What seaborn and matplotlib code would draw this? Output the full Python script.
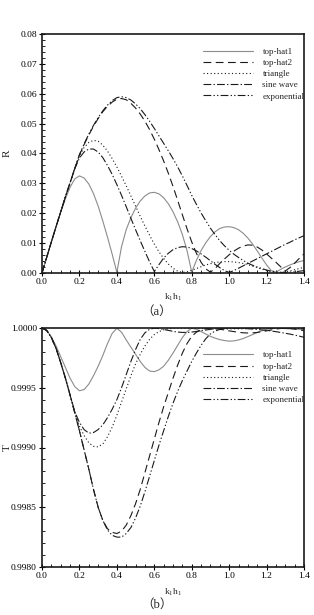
import matplotlib
matplotlib.use("Agg")
import matplotlib.pyplot as plt
from matplotlib.ticker import AutoMinorLocator, MultipleLocator, FormatStrFormatter
import seaborn as sns

sns.set_theme(style="ticks")
plt.rcParams['font.family'] = ['Liberation Serif', 'Noto Sans CJK SC', 'DejaVu Sans']
plt.rcParams['mathtext.fontset'] = 'custom'
plt.rcParams['mathtext.rm'] = 'Liberation Serif'
plt.rcParams['mathtext.it'] = 'Liberation Serif'

# k1h1 grid, step 0.025
k1h1 = [0.0, 0.025, 0.05, 0.075, 0.1, 0.125, 0.15, 0.175, 0.2, 0.225, 0.25, 0.275, 0.3, 0.325,
        0.35, 0.375, 0.4, 0.425, 0.45, 0.475, 0.5, 0.525, 0.55, 0.575, 0.6, 0.625, 0.65, 0.675,
        0.7, 0.725, 0.75, 0.775, 0.8, 0.825, 0.85, 0.875, 0.9, 0.925, 0.95, 0.975, 1.0, 1.025,
        1.05, 1.075, 1.1, 1.125, 1.15, 1.175, 1.2, 1.225, 1.25, 1.275, 1.3, 1.325, 1.35, 1.375, 1.4]

labels = ["top-hat1", "top-hat2", "triangle", "sine wave", "exponential"]

# (a) reflection coefficient R
r_tophat1 = [0, 0.0052, 0.0104, 0.0155, 0.0203, 0.0248, 0.0287, 0.0315, 0.0325, 0.0318, 0.0298, 0.0266,
             0.0224, 0.0174, 0.0120, 0.0063, 0.0002, 0.0088, 0.0145, 0.0185, 0.0217, 0.0241, 0.0258, 0.0268,
             0.0270, 0.0265, 0.0252, 0.0232, 0.0205, 0.0171, 0.0129, 0.0075, 0.0003, 0.0042, 0.0075, 0.0101,
             0.0122, 0.0138, 0.0149, 0.0154, 0.0155, 0.0152, 0.0145, 0.0133, 0.0117, 0.0097, 0.0074, 0.0050,
             0.0027, 0.0008, 0.0003, 0.0012, 0.0020, 0.0027, 0.0033, 0.0038, 0.0042]
r_tophat2 = [0, 0.0052, 0.0104, 0.0155, 0.0205, 0.0255, 0.0302, 0.0350, 0.0395, 0.0430, 0.0462, 0.0491,
             0.0517, 0.0540, 0.0558, 0.0572, 0.0582, 0.0584, 0.0580, 0.0568, 0.0552, 0.0532, 0.0508, 0.0480,
             0.0448, 0.0413, 0.0375, 0.0334, 0.0290, 0.0243, 0.0195, 0.0148, 0.0104, 0.0066, 0.0036, 0.0014,
             0.0003, 0.0015, 0.0032, 0.0047, 0.0061, 0.0073, 0.0083, 0.0090, 0.0094, 0.0093, 0.0087, 0.0077,
             0.0064, 0.0050, 0.0036, 0.0021, 0.0007, 0.0018, 0.0033, 0.0049, 0.0064]
r_triangle = [0, 0.0052, 0.0104, 0.0155, 0.0205, 0.0255, 0.0302, 0.0350, 0.0392, 0.0420, 0.0437, 0.0444,
              0.0441, 0.0428, 0.0408, 0.0383, 0.0355, 0.0324, 0.0292, 0.0258, 0.0224, 0.0190, 0.0157, 0.0126,
              0.0097, 0.0071, 0.0049, 0.0030, 0.0016, 0.0006, 0.0002, 0.0004, 0.0009, 0.0015, 0.0021, 0.0027,
              0.0031, 0.0035, 0.0037, 0.0038, 0.0038, 0.0037, 0.0035, 0.0032, 0.0028, 0.0023, 0.0018, 0.0013,
              0.0008, 0.0004, 0.0002, 0.0002, 0.0004, 0.0007, 0.0011, 0.0015, 0.0019]
r_sine = [0, 0.0052, 0.0104, 0.0155, 0.0205, 0.0255, 0.0302, 0.0348, 0.0385, 0.0405, 0.0415, 0.0415,
          0.0405, 0.0386, 0.0360, 0.0330, 0.0296, 0.0260, 0.0222, 0.0183, 0.0145, 0.0108, 0.0072, 0.0037,
          0.0005, 0.0028, 0.0050, 0.0066, 0.0078, 0.0085, 0.0088, 0.0087, 0.0082, 0.0074, 0.0064, 0.0053,
          0.0041, 0.0029, 0.0018, 0.0008, 0.0002, 0.0008, 0.0016, 0.0024, 0.0032, 0.0040, 0.0048, 0.0056,
          0.0064, 0.0072, 0.0080, 0.0088, 0.0096, 0.0103, 0.0111, 0.0118, 0.0125]
r_exp = [0, 0.0052, 0.0104, 0.0155, 0.0205, 0.0255, 0.0302, 0.0350, 0.0396, 0.0432, 0.0465, 0.0494,
         0.0520, 0.0543, 0.0562, 0.0577, 0.0587, 0.0590, 0.0587, 0.0579, 0.0566, 0.0550, 0.0530, 0.0508,
         0.0484, 0.0459, 0.0434, 0.0409, 0.0383, 0.0355, 0.0325, 0.0293, 0.0260, 0.0230, 0.0201, 0.0175,
         0.0150, 0.0128, 0.0108, 0.0091, 0.0076, 0.0063, 0.0052, 0.0042, 0.0033, 0.0026, 0.0020, 0.0015,
         0.0010, 0.0006, 0.0004, 0.0002, 0.0002, 0.0003, 0.0004, 0.0006, 0.0008]

# (b) transmission coefficient, read as 1 - T in units of 1e-4
loss_tophat1 = [0, 0.2, 0.75, 1.5, 2.4, 3.3, 4.2, 4.9, 5.25, 5.15, 4.7, 4.0, 3.2, 2.3, 1.3, 0.45, 0.02,
                0.35, 1.0, 1.6, 2.2, 2.8, 3.3, 3.6, 3.65, 3.5, 3.2, 2.7, 2.1, 1.45, 0.8, 0.3, 0.02,
                0.1, 0.3, 0.5, 0.7, 0.85, 0.97, 1.05, 1.1, 1.08, 1.0, 0.88, 0.72, 0.55, 0.38, 0.23,
                0.11, 0.04, 0.02, 0.03, 0.05, 0.07, 0.09, 0.11, 0.13]
loss_tophat2 = [0, 0.2, 0.8, 1.7, 2.9, 4.2, 5.6, 7.1, 8.6, 10.2, 11.8, 13.5, 15.0, 16.1, 16.8, 17.1, 17.2,
                17.0, 16.5, 15.7, 14.7, 13.5, 12.1, 10.7, 9.3, 7.9, 6.6, 5.4, 4.2, 3.1, 2.1, 1.3, 0.7,
                0.35, 0.15, 0.05, 0.02, 0.05, 0.1, 0.17, 0.24, 0.3, 0.36, 0.4, 0.42, 0.41, 0.37, 0.31,
                0.24, 0.16, 0.09, 0.04, 0.02, 0.04, 0.09, 0.15, 0.22]
loss_triangle = [0, 0.2, 0.8, 1.7, 2.9, 4.2, 5.6, 7.0, 8.2, 9.0, 9.6, 9.9, 9.95, 9.7, 9.1, 8.3, 7.3,
                 6.2, 5.1, 4.0, 3.0, 2.2, 1.5, 0.95, 0.55, 0.3, 0.15, 0.07, 0.03, 0.01, 0.0, 0.01, 0.02,
                 0.03, 0.05, 0.06, 0.07, 0.08, 0.08, 0.08, 0.08, 0.07, 0.07, 0.06, 0.05, 0.04, 0.02, 0.01,
                 0.0, 0.0, 0.0, 0.0, 0.0, 0.01, 0.01, 0.02, 0.02]
loss_sine = [0, 0.2, 0.8, 1.7, 2.9, 4.2, 5.6, 7.0, 7.9, 8.5, 8.8, 8.75, 8.5, 8.1, 7.5, 6.8, 6.0,
             5.0, 3.9, 2.8, 1.8, 0.95, 0.4, 0.1, 0.02, 0.05, 0.12, 0.2, 0.28, 0.34, 0.37, 0.37, 0.34,
             0.29, 0.23, 0.17, 0.11, 0.06, 0.03, 0.01, 0.0, 0.01, 0.02, 0.04, 0.06, 0.09, 0.12, 0.16,
             0.2, 0.25, 0.31, 0.37, 0.44, 0.51, 0.59, 0.68, 0.78]
loss_exp = [0, 0.2, 0.8, 1.7, 2.9, 4.2, 5.6, 7.1, 8.6, 10.2, 11.8, 13.5, 15.0, 16.1, 16.9, 17.35, 17.5,
            17.5, 17.2, 16.7, 15.9, 14.9, 13.7, 12.4, 11.1, 9.8, 8.6, 7.4, 6.3, 5.3, 4.4, 3.6, 2.8,
            2.1, 1.45, 0.9, 0.5, 0.25, 0.12, 0.06, 0.03, 0.02, 0.02, 0.02, 0.02, 0.02, 0.02, 0.02,
            0.02, 0.02, 0.02, 0.02, 0.02, 0.02, 0.03, 0.03, 0.04]

t_series = [[1 - d * 1e-4 for d in loss] for loss in
            (loss_tophat1, loss_tophat2, loss_triangle, loss_sine, loss_exp)]
r_series = [r_tophat1, r_tophat2, r_triangle, r_sine, r_exp]

colors = ["#8c8c8c", "#1a1a1a", "#1a1a1a", "#1a1a1a", "#1a1a1a"]
styles = ["-", (0, (7, 4)), (0, (1, 2.2)), (0, (7, 2, 1.2, 2)), (0, (7, 2, 1.2, 2, 1.2, 2))]

fig = plt.figure(figsize=(3.14, 6.15), dpi=100)
ax1 = fig.add_axes([42/314, 1-273/615, 262/314, 239/615])
ax2 = fig.add_axes([42/314, 1-567/615, 262/314, 239/615])


def draw(ax, series, ylim, ymajor, yfmt, ylab, leg_top):
    for vals, lab, c, ls in zip(series, labels, colors, styles):
        sns.lineplot(x=k1h1, y=vals, ax=ax, color=c, linestyle=ls, lw=0.8, label=lab)
    ax.set_xlim(0, 1.4)
    ax.set_ylim(*ylim)
    ax.xaxis.set_major_locator(MultipleLocator(0.2))
    ax.xaxis.set_major_formatter(FormatStrFormatter('%.1f'))
    ax.xaxis.set_minor_locator(AutoMinorLocator(4))
    ax.yaxis.set_major_locator(MultipleLocator(ymajor))
    ax.yaxis.set_major_formatter(FormatStrFormatter(yfmt))
    ax.yaxis.set_minor_locator(AutoMinorLocator(5))
    ax.tick_params(which='major', direction='inout', length=4.5, width=0.8,
                   labelsize=6.8, pad=1.5, colors='black')
    ax.tick_params(which='minor', direction='in', length=2.5, width=0.6, colors='black')
    for sp in ax.spines.values():
        sp.set_linewidth(1.2)
        sp.set_color('#1a1a1a')
    ax.set_xlabel(r'$\mathregular{k_1h_1}$', fontsize=6.8)
    ax.set_ylabel(ylab, fontsize=8)
    ax.yaxis.set_label_coords(-0.115, 0.5)
    ax.legend(loc='upper left', bbox_to_anchor=(0.646, leg_top), bbox_transform=fig.transFigure,
              frameon=False, fontsize=6.5, handlelength=5.6, handletextpad=1.0,
              labelspacing=0.32, borderpad=0, borderaxespad=0)


draw(ax1, r_series, (0, 0.08), 0.01, '%.2f', 'R', 0.923)
ax1.xaxis.set_label_coords((173-42)/262, -0.079)
draw(ax2, t_series, (0.998, 1.0), 0.0005, '%.4f', 'T', 0.429)
ax2.xaxis.set_label_coords((173-42)/262, -0.084)

fig.text(157/314, 1-312/615, "（a）", ha='center', va='center', fontsize=9)
fig.text(157/314, 1-605/615, "（b）", ha='center', va='center', fontsize=9)

fig.savefig("out.png", dpi=100)
